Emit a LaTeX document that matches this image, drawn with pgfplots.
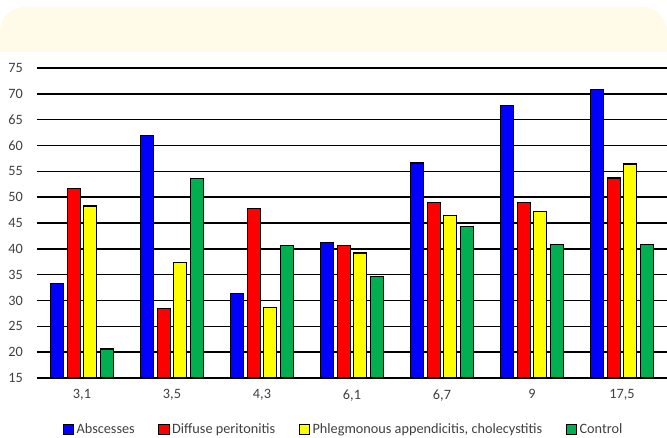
\documentclass[border=0pt]{standalone}
\usepackage{pgfplots}
\pgfplotsset{compat=1.18}
\usepackage{fontspec}
\setmainfont{Carlito}
\definecolor{cblue}{RGB}{0,0,255}
\definecolor{cred}{RGB}{255,0,0}
\definecolor{cyellow}{RGB}{255,255,0}
\definecolor{cgreen}{RGB}{0,176,80}
\definecolor{band}{RGB}{255,251,232}
\definecolor{txt}{RGB}{64,64,64}
\begin{document}
\begin{tikzpicture}
\useasboundingbox (0pt,0pt) rectangle (500.25pt,328.5pt);
\begin{scope}
\clip (0pt,289.5pt) rectangle (500.25pt,323.25pt);
\fill[band, rounded corners=18pt] (0pt,260pt) rectangle (500.25pt,323.25pt);
\end{scope}
\begin{axis}[
  at={(27.75pt,45pt)}, anchor=south west,
  scale only axis, width=472.5pt, height=232.5pt,
  xmin=-0.5, xmax=6.5, ymin=15, ymax=75,
  xtick={0,1,2,3,4,5,6},
  xticklabels={{3,1},{3,5},{4,3},{6,1},{6,7},{9},{17,5}},
  ytick={15,20,...,75},
  major tick length=0pt,
  ymajorgrids, grid style={black, line width=1.1pt},
  axis line style={draw=none},
  tick label style={font=\fontsize{10.7}{12}\selectfont, text=txt},
  /pgf/number format/assume math mode=true,
  yticklabel style={xshift=-7pt},
  xticklabel style={yshift=-5pt},
  ybar=2.6pt, bar width=9.75pt,
  every axis plot/.append style={draw=black, line width=0.9pt},
  legend columns=4,
  legend style={at={(0.487,-0.167)}, anchor=center, draw=none, fill=none,
    font=\fontsize{10.7}{12}\selectfont, text=txt,
    /tikz/every even column/.append style={column sep=15.5pt}},
  legend image code/.code={\draw[#1, line width=0.7pt] (0pt,-3.6pt) rectangle (7.8pt,4.2pt);},
  clip=false,
]
\addplot[fill=cblue] coordinates {(0,33.3) (1,62.0) (2,31.4) (3,41.2) (4,56.6) (5,67.7) (6,70.9)};
\addplot[fill=cred] coordinates {(0,51.6) (1,28.4) (2,47.8) (3,40.6) (4,49.0) (5,48.9) (6,53.7)};
\addplot[fill=cyellow] coordinates {(0,48.3) (1,37.3) (2,28.7) (3,39.2) (4,46.4) (5,47.2) (6,56.4)};
\addplot[fill=cgreen] coordinates {(0,20.6) (1,53.6) (2,40.6) (3,34.6) (4,44.3) (5,40.8) (6,40.8)};
\legend{Abscesses, Diffuse peritonitis, {Phlegmonous appendicitis, cholecystitis}, Control}
\end{axis}
\end{tikzpicture}
\end{document}
